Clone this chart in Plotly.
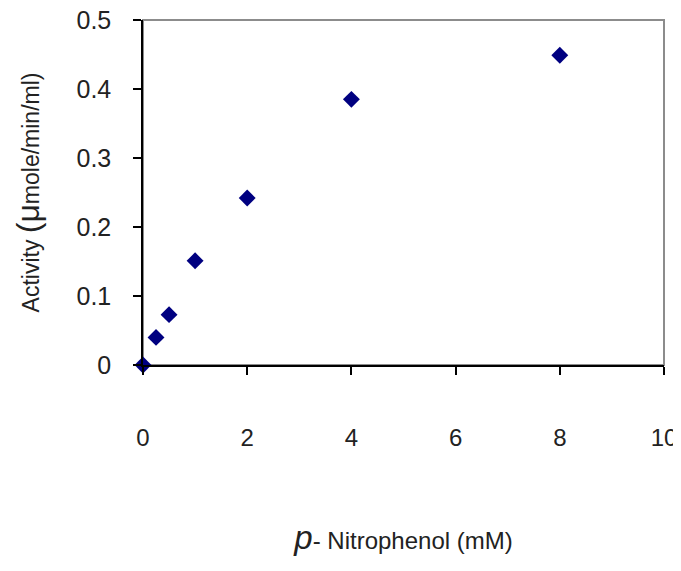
import plotly.graph_objects as go

concentration_mM = [0, 0.25, 0.5, 1, 2, 4, 8]
activity = [0.0, 0.04, 0.073, 0.151, 0.242, 0.385, 0.449]

x_ticks = [0, 2, 4, 6, 8, 10]
y_ticks = [0, 0.1, 0.2, 0.3, 0.4, 0.5]
y_tick_labels = ["0", "0.1", "0.2", "0.3", "0.4", "0.5"]

FONT = "Liberation Sans, Arial, sans-serif"

fig = go.Figure()
fig.add_trace(go.Scatter(
    x=concentration_mM, y=activity, mode="markers",
    marker=dict(symbol="diamond", size=13, color="#000080", line=dict(width=0)),
    cliponaxis=False, showlegend=False,
))

fig.add_shape(type="rect", xref="paper", yref="paper", x0=0, y0=0, x1=1, y1=1,
              line=dict(color="#8c8c8c", width=2), layer="below")

# the page adds an 8px body margin; the figure is offset accordingly
fig.update_layout(
    width=673, height=548,
    margin=dict(l=135, r=17, t=12, b=191),
    paper_bgcolor="white", plot_bgcolor="white",
    font=dict(family=FONT, color="#222222"),
    xaxis=dict(
        range=[0, 10], tickvals=x_ticks, showgrid=False, zeroline=False,
        showline=True, linecolor="black", linewidth=1.5, automargin=False,
        ticks="outside", ticklen=8, tickcolor="black", tickwidth=1.5,
        tickfont=dict(size=24, family=FONT, color="#222222"),
        ticklabelstandoff=42, ticklabeloverflow="allow",
        title=dict(text="<span style='font-size:33px'><i>p</i></span>- Nitrophenol (mM)",
                   font=dict(size=24, family=FONT, color="#222222"), standoff=92),
    ),
    yaxis=dict(
        range=[0, 0.5], tickvals=y_ticks, ticktext=y_tick_labels,
        showgrid=False, zeroline=False, automargin=False,
        showline=True, linecolor="black", linewidth=1.5,
        ticks="outside", ticklen=8, tickcolor="black", tickwidth=1.5,
        tickfont=dict(size=25, family=FONT, color="#222222"),
        ticklabelstandoff=17, ticklabeloverflow="allow",
        title=dict(text="Activity <span style='font-size:32px'>(μ</span>mole/min/ml)",
                   font=dict(size=23, family=FONT, color="#222222"), standoff=30),
    ),
)

fig.write_html("out.html")
